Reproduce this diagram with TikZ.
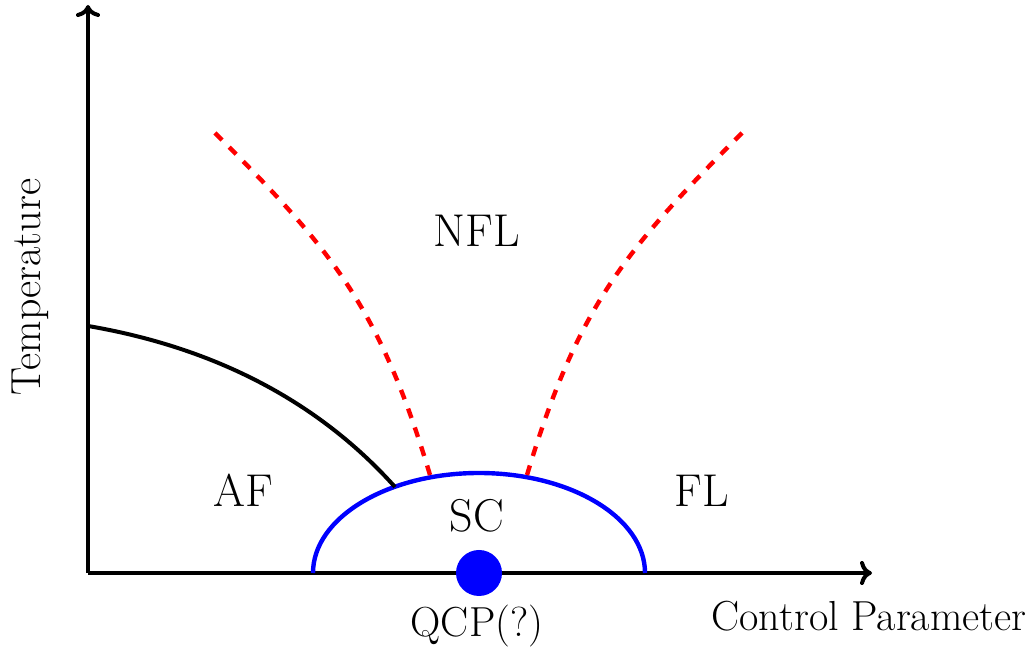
\documentclass[tikz,border=0pt]{standalone}
\usetikzlibrary{arrows.meta}
\tikzset{
  axisline/.style={line width=2pt,-{To[length=6pt,width=12pt]}},
  afline/.style={line width=2pt,black},
  scline/.style={line width=2.2pt,blue},
  crossover/.style={line width=2.2pt,red,dash pattern=on 5pt off 5pt},
  region/.style={font=\fontsize{23}{26}\selectfont,anchor=base,inner sep=0pt},
  axislabel/.style={font=\fontsize{21}{24}\selectfont,anchor=base,inner sep=0pt}
}
\begin{document}
\begin{tikzpicture}[x=0.5pt,y=0.5pt]
\useasboundingbox (0,0) rectangle (1036,651);
\coordinate (O) at (88,78);
\coordinate (ytip) at (88,646);
\coordinate (xtip) at (872,78);
\coordinate (afstart) at (88,325);
\coordinate (afend) at (395,164);
\coordinate (lstart) at (215,518);
\coordinate (lend) at (430,176);
\coordinate (rstart) at (742,518);
\coordinate (rend) at (527,176);
\coordinate (scleft) at (313,78);
% axes
\draw[axisline] (O) -- (xtip);
\draw[axisline] (O) -- (ytip);
% SC dome
\draw[scline] (scleft) arc[start angle=180,end angle=0,x radius=166,y radius=100];
% AF line
\draw[afline] (afstart) .. controls (240,299) and (335,231) .. (afend);
% crossover lines
\draw[crossover] (lstart) .. controls (330,403) and (379,346) .. (lend);
\draw[crossover] (rstart) .. controls (627,403) and (578,346) .. (rend);
% QCP dot
\node[circle,fill=blue,minimum size=23pt,inner sep=0pt] (qcp) at (479,78) {};
% labels
\node[region] (nfl) at (477,404) {NFL};
\node[region] (af) at (243,144) {AF};
\node[region] (fl) at (702,144) {FL};
\node[region] (sc) at (477,119) {SC};
\node[axislabel] (qcplabel) at (477,14) {QCP(?)};
\node[axislabel] (xlabel) at (869,20) {Control Parameter};
\node[axislabel,rotate=90] (ylabel) at (40,364) {Temperature};
\end{tikzpicture}
\end{document}
